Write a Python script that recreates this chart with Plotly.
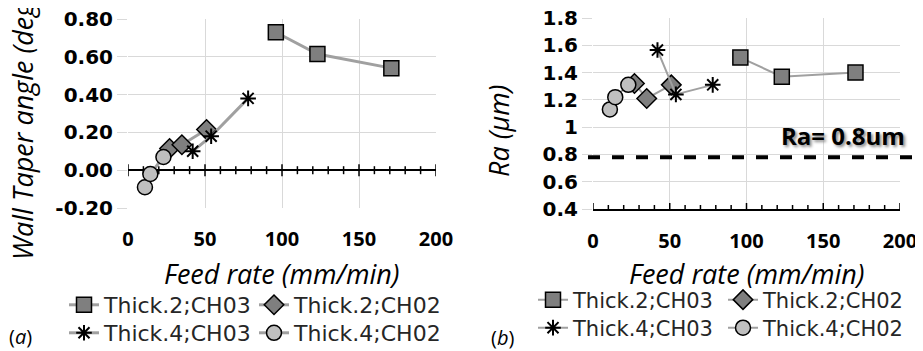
import plotly.graph_objects as go

# ---------------- data ----------------
series_names = ["Thick.2;CH03", "Thick.2;CH02", "Thick.4;CH03", "Thick.4;CH02"]

feed_t2_ch03 = [96, 123, 171]
feed_t2_ch02 = [27, 35, 51]
feed_t4_ch03 = [42, 54, 78]
feed_t4_ch02 = [11, 14.5, 23]

taper_t2_ch03 = [0.73, 0.615, 0.54]
taper_t2_ch02 = [0.115, 0.135, 0.215]
taper_t4_ch03 = [0.10, 0.18, 0.38]
taper_t4_ch02 = [-0.09, -0.02, 0.07]

ra_t2_ch03 = [1.51, 1.37, 1.40]
ra_t2_ch02 = [1.32, 1.21, 1.31]
ra_t4_ch03 = [1.565, 1.24, 1.31]
ra_t4_ch02 = [1.13, 1.22, 1.31]

ra_limit = 0.78
ra_limit_label = "Ra= 0.8um"

x_ticks = [0, 50, 100, 150, 200]
x_minor_step = 10
taper_ticks = [-0.2, 0.0, 0.2, 0.4, 0.6, 0.8]
taper_ticklabels = ["-0.20", "0.00", "0.20", "0.40", "0.60", "0.80"]
ra_ticks = [0.4, 0.6, 0.8, 1.0, 1.2, 1.4, 1.6, 1.8]
ra_ticklabels = ["0.4", "0.6", "0.8", "1", "1.2", "1.4", "1.6", "1.8"]

feeds = [feed_t2_ch03, feed_t2_ch02, feed_t4_ch03, feed_t4_ch02]
tapers = [taper_t2_ch03, taper_t2_ch02, taper_t4_ch03, taper_t4_ch02]
ras = [ra_t2_ch03, ra_t2_ch02, ra_t4_ch03, ra_t4_ch02]

# ---------------- layout helpers ----------------
# the page body has an 8px margin, so the figure is placed 8px in from the window corner
OFF = 8
W, H = 923 - OFF, 351 - OFF


def px(rx):
    return (rx - OFF) / W


def py(ry):
    return 1 - (ry - OFF) / H


GRID = "#d9d9d9"
LINE_C = "#a0a0a0"
markers = [
    dict(symbol="square", size=15, color="#7f7f7f", line=dict(color="black", width=1.5)),
    dict(symbol="diamond", size=15, color="#7f7f7f", line=dict(color="black", width=1.5)),
    dict(symbol="asterisk-open", size=13, color="black", line=dict(color="black", width=2)),
    dict(symbol="circle", size=15, color="#bfbfbf", line=dict(color="black", width=1.5)),
]

L_DOM = [px(128), px(436)]
R_DOM = [px(593), px(900)]
L_YDOM = [py(208), py(19)]
R_YDOM = [py(209), py(18)]

fig = go.Figure()

legend_ids_left = ["legend", "legend", "legend2", "legend2"]
legend_ids_right = ["legend3", "legend3", "legend4", "legend4"]

for i in range(4):
    fig.add_trace(go.Scatter(
        x=feeds[i], y=tapers[i], name=series_names[i], mode="lines+markers",
        line=dict(color=LINE_C, width=3), marker=markers[i],
        xaxis="x", yaxis="y", legend=legend_ids_left[i]))
for i in range(4):
    fig.add_trace(go.Scatter(
        x=feeds[i], y=ras[i], name=series_names[i], mode="lines+markers",
        line=dict(color=LINE_C, width=2), marker=markers[i],
        xaxis="x2", yaxis="y2", legend=legend_ids_right[i]))

ytick_font = dict(family="DejaVu Sans", size=20, color="black", weight="bold")
xtick_font = dict(family="Open Sans", size=20, color="black", weight="bold")

main_x = dict(range=[0, 200], tickvals=x_ticks, showgrid=True, gridcolor=GRID, gridwidth=1,
              zeroline=False, ticks="outside", ticklen=13,
              tickcolor="rgba(0,0,0,0)", tickfont=xtick_font, automargin=False,
              ticklabeloverflow="allow")

fig.update_layout(
    width=W, height=H, margin=dict(l=0, r=0, t=0, b=0, autoexpand=False),
    paper_bgcolor="white", plot_bgcolor="white",
    xaxis=dict(domain=L_DOM, anchor="y", showline=False, **main_x),
    xaxis2=dict(domain=R_DOM, anchor="y2", showline=True, linecolor="black", linewidth=1.5,
                **main_x),
    yaxis=dict(domain=L_YDOM, anchor="x", range=[-0.2, 0.8], tickvals=taper_ticks,
               ticktext=taper_ticklabels, showgrid=True, gridcolor=GRID,
               zeroline=True, zerolinecolor="black", zerolinewidth=1.5,
               showline=False, ticks="outside", ticklen=10, tickcolor=GRID, tickfont=ytick_font,
               automargin=False, ticklabeloverflow="allow"),
    yaxis2=dict(domain=R_YDOM, anchor="x2", range=[0.4, 1.8], tickvals=ra_ticks,
                ticktext=ra_ticklabels, showgrid=True, gridcolor=GRID, zeroline=False,
                showline=False, ticks="outside", ticklen=10, tickcolor=GRID, tickfont=ytick_font,
                automargin=False, ticklabeloverflow="allow"),
)

# crossing tick marks on the horizontal axes
for xr, yr, ybase in (("x", "y", 0.0), ("x2", "y2", 0.4)):
    for t in range(x_ticks[0], x_ticks[-1] + 1, x_minor_step):
        half = 6 if t in x_ticks else 4
        fig.add_shape(type="line", xref=xr, yref=yr, x0=t, x1=t,
                      ysizemode="pixel", yanchor=ybase, y0=-half, y1=half,
                      line=dict(color="black", width=1.5), layer="between")

leg_common = dict(orientation="h", entrywidth=145, entrywidthmode="pixels", itemwidth=30,
                  bgcolor="rgba(0,0,0,0)", xanchor="left", yanchor="middle",
                  xref="container", yref="container",
                  itemclick=False, itemdoubleclick=False)
left_leg_font = dict(family="DejaVu Sans", size=22, color="#262626")
right_leg_font = dict(family="DejaVu Sans", size=21, color="#262626")
fig.update_layout(
    legend=dict(x=px(64), y=py(305), font=left_leg_font, **leg_common),
    legend2=dict(x=px(64), y=py(333), font=left_leg_font, **leg_common),
    legend3=dict(x=px(533), y=py(300), font=right_leg_font, **leg_common),
    legend4=dict(x=px(533), y=py(328), font=right_leg_font, **leg_common),
)

# threshold line
fig.add_shape(type="line", xref="paper", yref="y2", x0=px(588), x1=px(913),
              y0=ra_limit, y1=ra_limit, line=dict(color="black", width=4, dash="12px,12px"))
fig.add_annotation(text=ra_limit_label, xref="paper", yref="paper", x=px(907), y=py(136),
                   xanchor="right", yanchor="middle", showarrow=False,
                   font=dict(family="Open Sans", size=24, color="black", weight="bold",
                             shadow="2px 2px 3px #888"))

title_font = dict(family="Open Sans", size=27, color="black", style="italic")
fig.add_annotation(text="Feed rate (mm/min)", xref="paper", yref="paper",
                   x=(L_DOM[0] + L_DOM[1]) / 2, y=py(273), showarrow=False,
                   xanchor="center", yanchor="middle", font=title_font)
fig.add_annotation(text="Feed rate (mm/min)", xref="paper", yref="paper",
                   x=(R_DOM[0] + R_DOM[1]) / 2, y=py(273), showarrow=False,
                   xanchor="center", yanchor="middle", font=title_font)
fig.add_annotation(text="Wall Taper angle (deg)", xref="paper", yref="paper",
                   x=px(22), y=py(128), showarrow=False, textangle=-90,
                   xanchor="center", yanchor="middle", font=title_font)
fig.add_annotation(text="Ra (\u03bcm)", xref="paper", yref="paper",
                   x=px(498), y=py(131), showarrow=False, textangle=-90,
                   xanchor="center", yanchor="middle", font=title_font)

lab_font = dict(family="Open Sans", size=20, color="black")
fig.add_annotation(text="(<i>a</i>)", xref="paper", yref="paper", x=px(20), y=py(336),
                   showarrow=False, xanchor="center", yanchor="middle", font=lab_font)
fig.add_annotation(text="(<i>b</i>)", xref="paper", yref="paper", x=px(502), y=py(337),
                   showarrow=False, xanchor="center", yanchor="middle", font=lab_font)

fig.write_html("out.html")
